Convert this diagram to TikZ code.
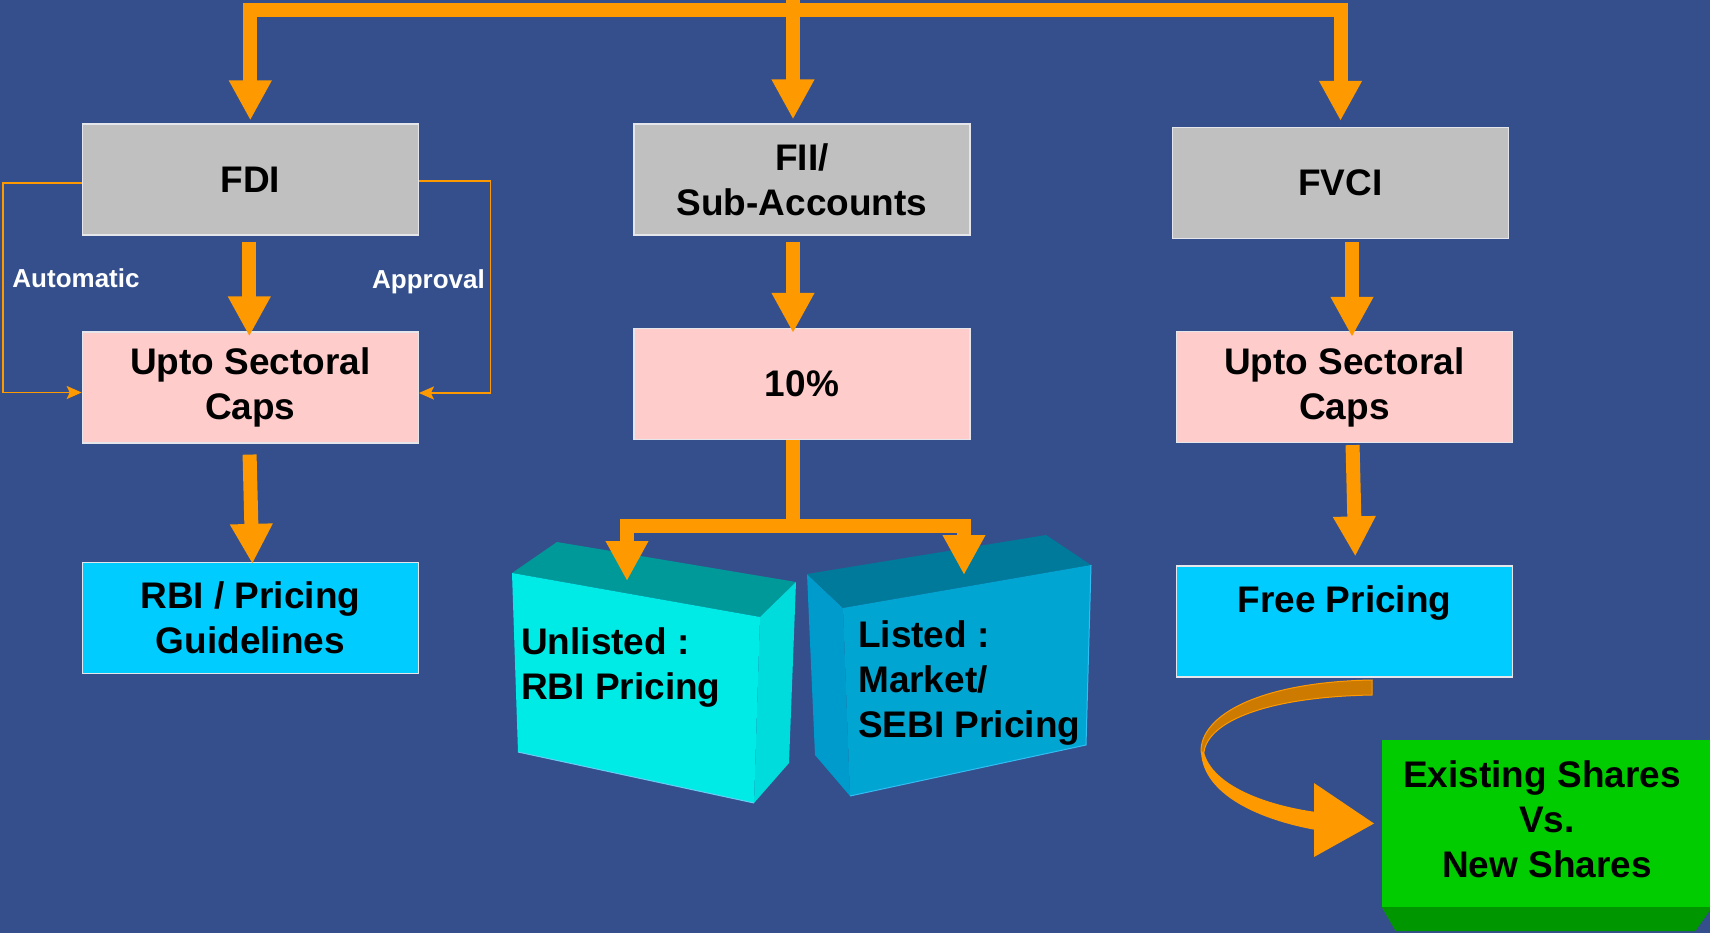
\documentclass[tikz,border=0pt]{standalone}
\usepackage{fontspec}
\setmainfont{Liberation Sans}
\usetikzlibrary{arrows.meta,calc}
\definecolor{bgblue}{RGB}{52,79,140}
\definecolor{orangeline}{RGB}{255,153,0}
\definecolor{orangedark}{RGB}{204,122,0}
\definecolor{boxgray}{RGB}{192,192,192}
\definecolor{boxpink}{RGB}{255,204,204}
\definecolor{boxcyan}{RGB}{0,204,255}
\definecolor{boxgreen}{RGB}{0,204,0}
\definecolor{greenshade}{RGB}{0,150,0}
\definecolor{aquafront}{RGB}{0,235,230}
\definecolor{aquatop}{RGB}{0,153,153}
\definecolor{aquaside}{RGB}{0,220,220}
\definecolor{bluefront}{RGB}{0,165,210}
\definecolor{bluetop}{RGB}{0,122,155}
\definecolor{blueside}{RGB}{0,155,205}
\definecolor{rim}{RGB}{228,230,236}
\newcommand\flowfont{\fontsize{37}{45}\selectfont\bfseries}
\newcommand\tagfont{\fontsize{26}{30}\selectfont\bfseries}
\tikzset{
	flowbox/.style={draw=rim, line width=1.2pt, minimum width=336pt, minimum height=111pt, inner sep=0pt, align=center, font=\flowfont},
	fatarrow/.style={draw=orangeline, line width=14pt, -{Triangle[width=40pt,length=40pt]}},
	thinarrow/.style={draw=orangeline, line width=1.8pt, -{Stealth[width=13pt,length=15pt,inset=3pt]}},
	tagtext/.style={text=white, font=\tagfont, inner sep=0pt},
	cubetext/.style={font=\flowfont, align=left, anchor=west, inner sep=0pt}
}

\begin{document}
\begin{tikzpicture}[x=1pt, y=-1pt]
			%%%%% START %%%%%
			
			\fill[bgblue] (0, 0) rectangle (1710, 933);
			\useasboundingbox (0, 0) rectangle (1710, 933);
			
			% cubes under the 10% split
			\fill[aquatop] (512, 573) -- (557, 542) -- (796, 582) -- (760, 617) -- cycle;
			\fill[aquaside] (760, 617) -- (796, 582) -- (789, 763) -- (754, 803) -- cycle;
			\fill[aquafront] (512, 573) -- (760, 617) -- (754, 803) -- (518, 752) -- cycle;
			\draw[cyan!60!white, line width=1pt] (518, 752) -- (754, 803);
			
			\fill[blueside] (807, 574) -- (843, 608) -- (850, 796) -- (815, 755) -- cycle;
			\fill[bluetop] (807, 574) -- (1046, 535) -- (1091, 565) -- (843, 608) -- cycle;
			\fill[bluefront] (843, 608) -- (1091, 565) -- (1086, 745) -- (850, 796) -- cycle;
			\draw[cyan!80!white, line width=1pt] (850, 796) -- (1086, 745) -- (1091, 565);
			
			\node[cubetext] (unlisted) at (521, 668) {Unlisted :\\RBI Pricing};
			\node[cubetext] (listed) at (858, 683) {Listed :\\Market/\\SEBI Pricing};
			
			% green block
			\node[fill=boxgreen, minimum width=330pt, minimum height=167pt, inner sep=0pt, align=center, font=\flowfont, text depth=8pt] (shares) at (1547, 823.5) {Existing Shares\hspace*{10pt}\\Vs.\hspace*{8pt}\\ New Shares};
			\fill[greenshade] (shares.south west) -- (shares.south east) -- ++(-17, 24) -- ($(shares.south west)+(14, 24)$) -- cycle;
			
			% boxes
			\node[flowbox, fill=boxgray] (fdi) at (250.3, 179.5) {FDI};
			\node[flowbox, fill=boxgray] (fii) at (802, 179.5) {FII/\\Sub-Accounts};
			\node[flowbox, fill=boxgray] (fvci) at (1340.5, 183) {FVCI};
			
			\node[flowbox, fill=boxpink] (fdicaps) at (250.3, 387.5) {Upto Sectoral\\Caps};
			\node[flowbox, fill=boxpink] (pct) at (802, 384) {10\%};
			\node[flowbox, fill=boxpink] (fvcicaps) at (1344.5, 387) {Upto Sectoral\\Caps};
			
			\node[flowbox, fill=boxcyan] (rbi) at (250.3, 618) {RBI / Pricing\\Guidelines};
			\node[flowbox, fill=boxcyan] (free) at (1344.5, 621.5) {Free Pricing\\~};
			
			% feed from the top
			\coordinate (feed) at (793, 0);
			\coordinate (topbar) at (793, 10.5);
			\draw[fatarrow, {Triangle[width=40pt,length=40pt]}-{Triangle[width=40pt,length=40pt]}, shorten <=3pt, shorten >=6pt] (fdi.north) |- (topbar) -| (fvci.north);
			\draw[fatarrow, shorten >=4pt] (feed) -- (feed |- fii.north);
			
			\draw[fatarrow, shorten <=6pt, shorten >=-5pt] ([xshift=-1pt]fdi.south) -- ([xshift=-1pt]fdicaps.north);
			\draw[fatarrow, shorten <=6pt, shorten >=-5pt] (feed |- fii.south) -- (feed |- pct.north);
			\draw[fatarrow, shorten <=3pt, shorten >=-6pt] ([xshift=11.5pt]fvci.south) -- ([xshift=7.5pt]fvcicaps.north);
			
			\draw[fatarrow, shorten <=11pt, shorten >=-2pt] ([xshift=-1pt]fdicaps.south) -- ([xshift=2pt]rbi.north);
			\draw[fatarrow, shorten <=2pt, shorten >=9pt] ([xshift=8pt]fvcicaps.south) -- ([xshift=11pt]free.north);
			
			% split to the cubes
			\coordinate (split) at (793, 526);
			\coordinate (untip) at (627, 581);
			\coordinate (listip) at (964, 575);
			\draw[draw=orangeline, line width=14pt] (feed |- pct.south) -- (split);
			\draw[fatarrow] (split) -| (untip);
			\draw[fatarrow] (split) -| (listip);
			
			% automatic / approval routes
			\draw[thinarrow] ([yshift=-3.5pt]fdi.west) -- ++(-79, 0) |- ([yshift=-5pt]fdicaps.west);
			\draw[thinarrow] ([yshift=-1.5pt]fdi.east) -- ++(71.5, 0) |- ([yshift=-5.5pt]fdicaps.east);
			\node[tagtext] (auto) at (76, 278) {Automatic};
			\node[tagtext] (appr) at (428.5, 282) {Approval};
			
			% curled arrow to the green block
			\fill[orangeline] (1201, 752) .. controls (1203, 795) and (1260, 820) .. (1316, 830) -- (1316, 812) .. controls (1265, 805) and (1212, 785) .. (1204, 752) -- cycle;
			\filldraw[fill=orangedark, draw=orangeline, line width=1pt] (1372, 680) .. controls (1260, 682) and (1200, 715) .. (1201, 752) -- (1204, 752) .. controls (1208, 722) and (1265, 697) .. (1372, 695) -- cycle;
			\fill[orangeline] (1314, 783) -- (shares.west -| 1374, 0) -- (1314, 857) -- cycle;
			
			%%%%% END %%%%%
\end{tikzpicture}
\end{document}
